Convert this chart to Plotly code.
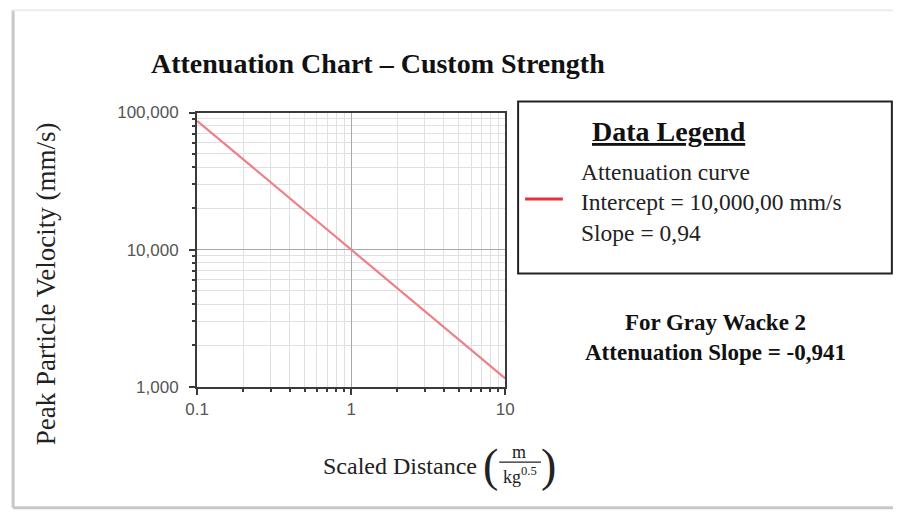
import plotly.graph_objects as go

# Attenuation curve: scaled distance vs peak particle velocity
scaled_distance = [0.1, 1, 10]
ppv_mm_s = [87100, 10000, 1148]

x_tick_vals = [0.1, 1, 10]
x_tick_text = ["0.1", "1", "10"]
x_minor_vals = [0.2, 0.3, 0.4, 0.5, 0.6, 0.7, 0.8, 0.9,
                2, 3, 4, 5, 6, 7, 8, 9]
y_tick_vals = [1000, 10000, 100000]
y_tick_text = ["1,000", "10,000", "100,000"]
y_minor_vals = [2000, 3000, 4000, 5000, 6000, 7000, 8000, 9000,
                20000, 30000, 40000, 50000, 60000, 70000, 80000, 90000]

W, H = 902, 519
# page layout: 8px body margin around the figure
PAGE_W, PAGE_H = W + 16, H + 16


def px(x):
    return (x * PAGE_W / W - 8) / W


def py(y):
    return 1 - (y * PAGE_H / H - 8) / H


SERIF = "Liberation Serif, Times New Roman, serif"
SANS = "Liberation Sans, Arial, sans-serif"

fig = go.Figure()
fig.add_trace(go.Scatter(
    x=scaled_distance, y=ppv_mm_s, mode="lines",
    line=dict(color="#f07f87", width=2.2), showlegend=False,
    hoverinfo="x+y",
))

axis_common = dict(
    type="log",
    showline=True, linecolor="#3a3a3a", linewidth=2, mirror=True,
    ticks="outside", ticklen=6, tickcolor="#3a3a3a", tickwidth=1.5,
    showgrid=True, gridcolor="#a8a8a8", gridwidth=1,
    tickfont=dict(family=SANS, size=17, color="#555555"),
    zeroline=False,
)

fig.update_xaxes(
    **axis_common,
    range=[-1, 1],
    tickmode="array", tickvals=x_tick_vals, ticktext=x_tick_text,
    minor=dict(tickmode="array", tickvals=x_minor_vals,
               ticks="outside", ticklen=3, tickcolor="#3a3a3a",
               showgrid=True, gridcolor="#e0e0e0", gridwidth=1),
    domain=[px(194), px(504)],
)
fig.update_yaxes(
    **axis_common,
    range=[3, 5],
    tickmode="array", tickvals=y_tick_vals, ticktext=y_tick_text,
    ticklabelstandoff=7,
    minor=dict(tickmode="array", tickvals=y_minor_vals,
               ticks="outside", ticklen=3, tickcolor="#3a3a3a",
               showgrid=True, gridcolor="#e0e0e0", gridwidth=1),
    domain=[py(388), py(112)],
)

shapes = []
annotations = []

# page frame with a soft shadow on the left and bottom
shapes.append(dict(type="line", xref="paper", yref="paper",
                   x0=px(9), x1=px(9), y0=py(9), y1=py(510),
                   line=dict(color="#c8c8c8", width=3)))
shapes.append(dict(type="line", xref="paper", yref="paper",
                   x0=px(9), x1=1, y0=py(510), y1=py(510),
                   line=dict(color="#c8c8c8", width=3)))
shapes.append(dict(type="line", xref="paper", yref="paper",
                   x0=px(9), x1=1, y0=py(9), y1=py(9),
                   line=dict(color="#ececec", width=2)))

# chart title
annotations.append(dict(
    text="<b>Attenuation Chart – Custom Strength</b>",
    x=px(376), y=py(63), xref="paper", yref="paper",
    xanchor="center", yanchor="middle", showarrow=False,
    font=dict(family=SERIF, size=28, color="#111111"),
))

# y axis title
annotations.append(dict(
    text="Peak Particle Velocity (mm/s)",
    x=px(42), y=py(284), xref="paper", yref="paper",
    xanchor="center", yanchor="middle", showarrow=False, textangle=-90,
    font=dict(family=SERIF, size=27, color="#222222"),
))

# x axis title with a fractional unit
annotations.append(dict(
    text="Scaled Distance",
    x=px(478), y=py(468), xref="paper", yref="paper",
    xanchor="right", yanchor="middle", showarrow=False,
    font=dict(family=SERIF, size=24, color="#222222"),
))
annotations.append(dict(
    text="(", x=px(489), y=py(467), xref="paper", yref="paper",
    xanchor="center", yanchor="middle", showarrow=False,
    font=dict(family=SERIF, size=46, color="#222222"),
))
annotations.append(dict(
    text=")", x=px(548), y=py(467), xref="paper", yref="paper",
    xanchor="center", yanchor="middle", showarrow=False,
    font=dict(family=SERIF, size=46, color="#222222"),
))
annotations.append(dict(
    text="m", x=px(518), y=py(454), xref="paper", yref="paper",
    xanchor="center", yanchor="middle", showarrow=False,
    font=dict(family=SERIF, size=18, color="#222222"),
))
annotations.append(dict(
    text="kg<sup>0.5</sup>", x=px(519), y=py(478), xref="paper", yref="paper",
    xanchor="center", yanchor="middle", showarrow=False,
    font=dict(family=SERIF, size=18, color="#222222"),
))
shapes.append(dict(type="line", xref="paper", yref="paper",
                   x0=px(498), x1=px(540), y0=py(464), y1=py(464),
                   line=dict(color="#222222", width=1.2)))

# legend panel
shapes.append(dict(type="rect", xref="paper", yref="paper",
                   x0=px(517), x1=px(893), y0=py(101), y1=py(274),
                   line=dict(color="#222222", width=2), fillcolor="white"))
annotations.append(dict(
    text="<b><u>Data Legend</u></b>",
    x=px(669), y=py(131), xref="paper", yref="paper",
    xanchor="center", yanchor="middle", showarrow=False,
    font=dict(family=SERIF, size=28, color="#111111"),
))
legend_lines = ["Attenuation curve", "Intercept = 10,000,00 mm/s", "Slope = 0,94"]
for i, line in enumerate(legend_lines):
    annotations.append(dict(
        text=line, x=px(578), y=py(172 + 30.5 * i), xref="paper", yref="paper",
        xanchor="left", yanchor="middle", showarrow=False,
        font=dict(family=SERIF, size=23.5, color="#222222"),
    ))
shapes.append(dict(type="line", xref="paper", yref="paper",
                   x0=px(524), x1=px(562), y0=py(199), y1=py(199),
                   line=dict(color="#e8303a", width=3)))

# rock type note
annotations.append(dict(
    text="<b>For Gray Wacke 2</b><br><b>Attenuation Slope = -0,941</b>",
    x=px(716), y=py(339), xref="paper", yref="paper",
    xanchor="center", yanchor="middle", showarrow=False, align="center",
    font=dict(family=SERIF, size=23, color="#111111"),
))

fig.update_layout(
    width=W, height=H,
    margin=dict(l=0, r=0, t=0, b=0),
    paper_bgcolor="white", plot_bgcolor="white",
    shapes=shapes, annotations=annotations,
    showlegend=False,
)

fig.write_html("out.html")
